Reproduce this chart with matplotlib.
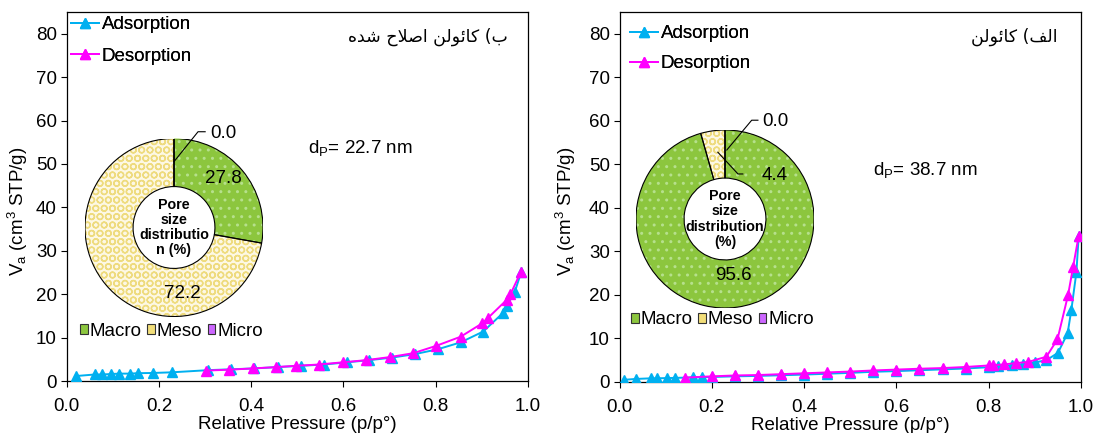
import matplotlib
matplotlib.use('Agg')
import matplotlib.pyplot as plt
from matplotlib.patches import Patch, Wedge

plt.rcParams['font.family'] = ['Liberation Sans', 'DejaVu Sans']
plt.rcParams['mathtext.fontset'] = 'custom'
plt.rcParams['mathtext.rm'] = 'Liberation Sans'
plt.rcParams['mathtext.it'] = 'Liberation Sans:italic'
plt.rcParams['mathtext.bf'] = 'Liberation Sans:bold'
plt.rcParams['hatch.linewidth'] = 1.0

# ---------------- data ----------------
# left panel: modified kaolin
mk_ads_x = [0.021, 0.061, 0.077, 0.095, 0.114, 0.138, 0.154, 0.187, 0.228, 0.307, 0.357,
            0.407, 0.457, 0.508, 0.558, 0.607, 0.656, 0.706, 0.755, 0.804, 0.854, 0.903,
            0.945, 0.954, 0.971, 0.985]
mk_ads_y = [1.15, 1.5, 1.5, 1.6, 1.7, 1.7, 1.8, 1.85, 2.0, 2.5, 2.7,
            2.9, 3.2, 3.5, 3.8, 4.3, 4.8, 5.4, 6.2, 7.3, 8.9, 11.4,
            15.6, 17.3, 20.4, 25.0]
mk_des_x = [0.302, 0.351, 0.404, 0.453, 0.497, 0.547, 0.598, 0.649, 0.700, 0.751, 0.801,
            0.854, 0.901, 0.913, 0.954, 0.962, 0.984]
mk_des_y = [2.4, 2.6, 2.9, 3.2, 3.5, 3.8, 4.3, 4.8, 5.5, 6.4, 8.1,
            10.2, 13.3, 14.5, 18.7, 20.0, 25.0]

# right panel: kaolin
k_ads_x = [0.009, 0.035, 0.069, 0.081, 0.102, 0.121, 0.160, 0.179, 0.20, 0.25, 0.30,
           0.35, 0.40, 0.45, 0.50, 0.55, 0.60, 0.65, 0.70, 0.75, 0.80, 0.82, 0.85,
           0.875, 0.90, 0.925, 0.950, 0.971, 0.979, 0.990, 0.995]
k_ads_y = [0.5, 0.7, 0.85, 0.85, 0.9, 0.95, 1.05, 1.1, 1.15, 1.3, 1.4,
           1.55, 1.7, 1.9, 2.1, 2.35, 2.5, 2.7, 2.9, 3.1, 3.4, 3.6, 3.8,
           4.1, 4.5, 5.0, 6.7, 11.2, 16.5, 25.2, 33.5]
k_des_x = [0.141, 0.20, 0.25, 0.30, 0.35, 0.40, 0.45, 0.50, 0.55, 0.60, 0.65, 0.70,
           0.75, 0.80, 0.81, 0.834, 0.86, 0.885, 0.925, 0.949, 0.972, 0.983, 0.995]
k_des_y = [1.0, 1.3, 1.5, 1.6, 1.8, 2.0, 2.2, 2.4, 2.65, 2.85, 3.05, 3.2,
           3.45, 3.8, 3.85, 4.05, 4.35, 4.6, 5.8, 9.8, 20.0, 26.5, 33.6]

pore_classes = ['Macro', 'Meso', 'Micro']
mk_pore = [27.8, 72.2, 0.0]
k_pore = [95.6, 4.4, 0.0]

mk_dp = 'd$_\\mathrm{P}$= 22.7 nm'
k_dp = 'd$_\\mathrm{P}$= 38.7 nm'
# Persian titles (visual order, presentation forms): "ب) کائولن اصلاح شده" and "الف) کائولن"
mk_title = '\uFEE9\uFEAA\uFEB7 \uFEA1\uFEFC\uFEBB\uFE8D \uFEE6\uFEDF\uFEEE\uFE8B\uFE8E\uFB90 (\uFE8F'
k_title = '\uFEE6\uFEDF\uFEEE\uFE8B\uFE8E\uFB90 (\uFED2\uFEDF\uFE8D'

xticks = [0.0, 0.2, 0.4, 0.6, 0.8, 1.0]
yticks = [0, 10, 20, 30, 40, 50, 60, 70, 80]

# ---------------- style ----------------
W, H = 1096, 433
FS = 13.5
ADS_C = '#00B0F0'
DES_C = '#FF00FF'
pie_face = ['#8CC63E', '#FDF8E4', '#CC66FF']
pie_hatch = ['..', 'OO', '']
pie_hcol = ['#B6E08C', '#EEDB7E', '#CC66FF']
leg_face = ['#8CC63E', '#F2DE79', '#CC66FF']

fig = plt.figure(figsize=(W / 100, H / 100), dpi=100)


def px_rect(x0, y0, x1, y1):
    return [x0 / W, 1 - y1 / H, (x1 - x0) / W, (y1 - y0) / H]


def main_panel(rect, ax_x, ax_y, de_x, de_y, title, tpos, dp, dpos, leg_anchor, lspace,
               ylab_x):
    ax = fig.add_axes(rect)
    ax.plot(ax_x, ax_y, color=ADS_C, lw=1.4, marker='^', ms=7, mec=ADS_C, mfc=ADS_C,
            label='Adsorption', zorder=3)
    ax.plot(de_x, de_y, color=DES_C, lw=1.4, marker='^', ms=7, mec=DES_C, mfc=DES_C,
            label='Desorption', zorder=4)
    ax.set_xlim(0, 1.0)
    ax.set_ylim(0, 85)
    ax.set_xticks(xticks)
    ax.set_xticklabels([f'{v:.1f}' for v in xticks])
    ax.set_yticks(yticks)
    ax.tick_params(axis='both', direction='out', length=4, width=0.8, labelsize=FS,
                   colors='black')
    ax.tick_params(axis='x', pad=8)
    ax.tick_params(axis='y', pad=3)
    for s in ax.spines.values():
        s.set_linewidth(0.9)
        s.set_color('black')
    ax.set_xlabel('Relative Pressure (p/p\u00b0)', fontsize=FS, labelpad=1)
    ax.set_ylabel('V$_\\mathrm{a}$ (cm$^3$ STP/g)', fontsize=FS)
    ax.yaxis.set_label_coords(ylab_x, 0.46)
    ax.text(tpos[0], tpos[1], title, transform=ax.transAxes, ha='right', va='center',
            fontsize=12.5, family=['DejaVu Sans'])
    ax.text(dpos[0], dpos[1], dp, transform=ax.transAxes, ha='left', va='center',
            fontsize=FS)
    leg = ax.legend(loc='upper left', bbox_to_anchor=leg_anchor,
                    bbox_transform=fig.transFigure, frameon=False, fontsize=FS,
                    borderpad=0, borderaxespad=0, handlelength=1.5, handletextpad=0.15,
                    labelspacing=lspace)
    ax.add_artist(leg)
    return ax


def donut(center, R, vals, annots, leg_anchor, center_text):
    cx, cy = center
    ax = fig.add_axes(px_rect(cx - R, cy - R, cx + R, cy + R))
    ax.axis('off')
    wedges, _ = ax.pie(vals, colors=pie_face, startangle=90, counterclock=False,
                       radius=1, wedgeprops=dict(width=0.54, edgecolor='none', linewidth=0))
    ax.set_xlim(-1, 1)
    ax.set_ylim(-1, 1)
    for w, h, hc in zip(wedges, pie_hatch, pie_hcol):
        if h:
            ax.add_patch(Wedge(w.center, w.r, w.theta1, w.theta2, width=w.width,
                               facecolor='none', edgecolor=hc, linewidth=0, hatch=h))
    for w in wedges:
        ax.add_patch(Wedge(w.center, w.r, w.theta1, w.theta2, width=w.width,
                           facecolor='none', edgecolor='black', linewidth=0.8))
    ax.text(0, 0, center_text, ha='center', va='center', fontsize=10.3,
            fontweight='bold', linespacing=1.1)
    for a in annots:
        if a[2] is None:
            ax.text(a[0], a[1], a[3], ha='center', va='center', fontsize=FS)
        else:
            (x0, y0), (x1, y1), (x2, y2) = a[2]
            ax.plot([x0, x1, x2], [y0, y1, y2], color='black', lw=0.8, clip_on=False)
            ax.text(a[0], a[1], a[3], ha='center', va='center', fontsize=FS,
                    clip_on=False)
    handles = [Patch(facecolor=c, edgecolor='#333333', linewidth=0.8) for c in leg_face]
    fig.legend(handles, pore_classes, loc='center left', bbox_to_anchor=leg_anchor,
               bbox_transform=fig.transFigure, ncol=3, frameon=False, fontsize=FS,
               borderpad=0, borderaxespad=0, handlelength=0.4, handleheight=0.4,
               handletextpad=0.12, columnspacing=0.28)
    return ax


# left panel
main_panel(px_rect(66.7, 12, 528, 381), mk_ads_x, mk_ads_y, mk_des_x, mk_des_y,
           mk_title, (0.957, 0.932), mk_dp, (0.523, 0.631),
           (71 / W, 1 - 16 / H), 0.78, -0.08)
donut((174, 227.5), 89, mk_pore,
      [(0.55, 0.55, None, '27.8'), (0.09, -0.74, None, '72.2'),
       (0.56, 1.06, ((0.0, 0.74), (0.27, 1.076), (0.35, 1.076)), '0.0')],
      (80 / W, 1 - 331 / H), 'Pore\nsize\ndistributio\nn (%)')

# right panel
main_panel(px_rect(619.5, 12, 1081, 382), k_ads_x, k_ads_y, k_des_x, k_des_y,
           k_title, (0.948, 0.932), k_dp, (0.549, 0.572),
           (630 / W, 1 - 25 / H), 0.7, -0.09)
donut((725, 219), 89, k_pore,
      [(0.10, -0.63, None, '95.6'),
       (0.57, 1.09, ((0.02, 0.775), (0.30, 1.11), (0.37, 1.11)), '0.0'),
       (0.56, 0.49, ((-0.08, 0.75), (0.146, 0.506), (0.20, 0.506)), '4.4')],
      (631 / W, 1 - 320 / H), 'Pore\nsize\ndistribution\n(%)')

fig.savefig('out.png', dpi=100)
